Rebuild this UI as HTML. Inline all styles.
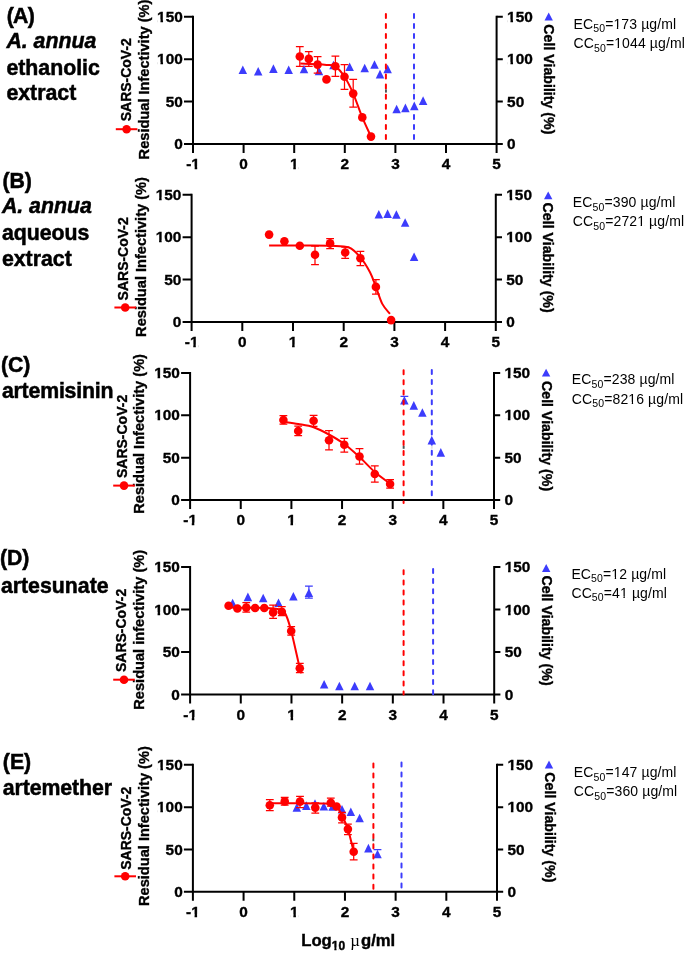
<!DOCTYPE html>
<html><head><meta charset="utf-8"><style>
html,body{margin:0;padding:0;background:#fff;}
svg{display:block;will-change:transform;}
text{font-family:"Liberation Sans", sans-serif;}
.tk{font-size:15.4px;font-weight:bold;font-kerning:none;stroke:#000;stroke-width:0.35px;}
.lb{font-size:14px;font-weight:bold;stroke:#000;stroke-width:0.35px;}
.ri{font-size:14.6px;}
.cv{font-size:14.2px;}
.ec{font-size:14px;letter-spacing:0.12px;font-kerning:none;}
.sub{font-size:10.5px;}
.pl{font-size:21.3px;font-weight:bold;stroke:#000;stroke-width:0.5px;}
.it{font-style:italic;}
.ls2{letter-spacing:-0.2px;}
.ls1{letter-spacing:-0.1px;}
.lsA{letter-spacing:-0.8px;}
.xl{font-size:16.7px;font-kerning:none;font-weight:bold;stroke:#000;stroke-width:0.4px;}
.xsub{font-size:12px;}
.mu{font-weight:normal;stroke-width:0;letter-spacing:1px;font-family:"Liberation Serif",serif;}
</style></head><body>
<svg width="685" height="955" viewBox="0 0 685 955">
<rect width="685" height="955" fill="#fff"/>
<path d="M193 16.8V144H496.6V16.8" stroke="#000" stroke-width="2" fill="none" stroke-linecap="square"/>
<path d="M184 144H193M496.6 144H502.8M184 101.6H193M496.6 101.6H502.8M184 59.2H193M496.6 59.2H502.8M184 16.8H193M496.6 16.8H502.8M193 144V152.9M243.6 144V152.9M294.2 144V152.9M344.8 144V152.9M395.4 144V152.9M446 144V152.9M496.6 144V152.9" stroke="#000" stroke-width="2" fill="none"/>
<g transform="translate(182.8,149.1) scale(1,1.0)"><text x="-8.56" y="0" class="tk">0</text></g>
<g transform="translate(507.1,149.1) scale(1,1.0)"><text x="0" y="0" class="tk">0</text></g>
<g transform="translate(182.8,106.7) scale(1,1.0)"><text x="-17.13" y="0" class="tk">50</text></g>
<g transform="translate(507.1,106.7) scale(1,1.0)"><text x="0" y="0" class="tk">50</text></g>
<g transform="translate(182.8,64.3) scale(1,1.0)"><text x="-25.69" y="0" class="tk">100</text><rect x="-25.4" y="-2.35" width="3.08" height="4.55" fill="#fff"/><rect x="-19.76" y="-2.35" width="2.88" height="4.55" fill="#fff"/></g>
<g transform="translate(507.1,64.3) scale(1,1.0)"><text x="0" y="0" class="tk">100</text><rect x="0.29" y="-2.35" width="3.08" height="4.55" fill="#fff"/><rect x="5.93" y="-2.35" width="2.88" height="4.55" fill="#fff"/></g>
<g transform="translate(182.8,21.9) scale(1,1.0)"><text x="-25.69" y="0" class="tk">150</text><rect x="-25.4" y="-2.35" width="3.08" height="4.55" fill="#fff"/><rect x="-19.76" y="-2.35" width="2.88" height="4.55" fill="#fff"/></g>
<g transform="translate(507.1,21.9) scale(1,1.0)"><text x="0" y="0" class="tk">150</text><rect x="0.29" y="-2.35" width="3.08" height="4.55" fill="#fff"/><rect x="5.93" y="-2.35" width="2.88" height="4.55" fill="#fff"/></g>
<g transform="translate(193,169) scale(1,1.0)"><text x="-6.85" y="0" class="tk">-1</text><rect x="-1.42" y="-2.35" width="3.08" height="4.55" fill="#fff"/><rect x="4.21" y="-2.35" width="2.88" height="4.55" fill="#fff"/></g>
<g transform="translate(243.6,169) scale(1,1.0)"><text x="-4.28" y="0" class="tk">0</text></g>
<g transform="translate(294.2,169) scale(1,1.0)"><text x="-4.28" y="0" class="tk">1</text><rect x="-3.99" y="-2.35" width="3.08" height="4.55" fill="#fff"/><rect x="1.65" y="-2.35" width="2.88" height="4.55" fill="#fff"/></g>
<g transform="translate(344.8,169) scale(1,1.0)"><text x="-4.28" y="0" class="tk">2</text></g>
<g transform="translate(395.4,169) scale(1,1.0)"><text x="-4.28" y="0" class="tk">3</text></g>
<g transform="translate(446,169) scale(1,1.0)"><text x="-4.28" y="0" class="tk">4</text></g>
<g transform="translate(496.6,169) scale(1,1.0)"><text x="-4.28" y="0" class="tk">5</text></g>
<text transform="translate(149.3,79.5) rotate(-90)" text-anchor="middle" class="lb ri">Residual Infectivity (%)</text>
<text transform="translate(131,121.3) rotate(-90) scale(1,1.035)" text-anchor="start" class="lb">SARS-CoV-2</text>
<path d="M115.8 129.2H137.4" stroke="#ff0000" stroke-width="2" fill="none"/>
<circle cx="126.6" cy="129.2" r="4.3" fill="#ff0000"/>
<text transform="translate(543.8,24.3) rotate(90)" class="lb cv">Cell Viability (%)</text>
<polygon points="548.7,12.6 544.5,20.5 552.9,20.5" fill="#3c3cfc"/>
<g transform="translate(573.5,29)"><text x="0" y="0" class="ec">EC<tspan class="sub" dy="3.4">50</tspan><tspan dy="-3.4">=173 µg/ml</tspan></text><rect x="40.35" y="-1.65" width="3.02" height="3.85" fill="#fff"/><rect x="44.71" y="-1.65" width="2.91" height="3.85" fill="#fff"/></g>
<g transform="translate(573.5,48.2)"><text x="0" y="0" class="ec">CC<tspan class="sub" dy="3.4">50</tspan><tspan dy="-3.4">=1044 µg/ml</tspan></text><rect x="41.13" y="-1.65" width="3.02" height="3.85" fill="#fff"/><rect x="45.48" y="-1.65" width="2.91" height="3.85" fill="#fff"/></g>
<polygon points="242.8,65.5 238.55,74.1 247.05,74.1" fill="#3c3cfc"/>
<polygon points="258.2,66.9 253.95,75.5 262.45,75.5" fill="#3c3cfc"/>
<polygon points="273.4,64.3 269.15,72.9 277.65,72.9" fill="#3c3cfc"/>
<polygon points="288.7,65.5 284.45,74.1 292.95,74.1" fill="#3c3cfc"/>
<polygon points="304,64.7 299.75,73.3 308.25,73.3" fill="#3c3cfc"/>
<polygon points="319,66.7 314.75,75.3 323.25,75.3" fill="#3c3cfc"/>
<polygon points="333.5,60.7 329.25,69.3 337.75,69.3" fill="#3c3cfc"/>
<polygon points="349.6,62.4 345.35,71 353.85,71" fill="#3c3cfc"/>
<polygon points="364.7,63.7 360.45,72.3 368.95,72.3" fill="#3c3cfc"/>
<polygon points="374.5,60.2 370.25,68.8 378.75,68.8" fill="#3c3cfc"/>
<polygon points="380,69.8 375.75,78.4 384.25,78.4" fill="#3c3cfc"/>
<polygon points="387.6,64.6 383.35,73.2 391.85,73.2" fill="#3c3cfc"/>
<polygon points="396.6,104.7 392.35,113.3 400.85,113.3" fill="#3c3cfc"/>
<polygon points="405.4,103.6 401.15,112.2 409.65,112.2" fill="#3c3cfc"/>
<polygon points="414.3,101.6 410.05,110.2 418.55,110.2" fill="#3c3cfc"/>
<polygon points="423.1,96.3 418.85,104.9 427.35,104.9" fill="#3c3cfc"/>
<path d="M385.9 13.9V139.3" stroke="#ff0000" stroke-width="2" stroke-dasharray="4 6.1" stroke-linecap="round" fill="none"/>
<path d="M414 13.9V139.3" stroke="#3c3cfc" stroke-width="2" stroke-dasharray="4 6.1" stroke-linecap="round" fill="none"/>
<path d="M300.3 63.6C303.18 63.72 313.23 64.07 317.6 64.3C321.97 64.53 323.55 64.65 326.5 65C329.45 65.35 332.3 64.43 335.3 66.4C338.3 68.37 341.52 72.27 344.5 76.8C347.48 81.33 350.23 86.83 353.2 93.6C356.17 100.37 359.33 110.23 362.3 117.4C365.27 124.57 369.55 133.4 371 136.6" stroke="#ff0000" stroke-width="2.0" fill="none" stroke-linejoin="round" stroke-linecap="butt"/>
<path d="M299.8 46.5V66.3M295.9 46.5H303.7M295.9 66.3H303.7" stroke="#ff0000" stroke-width="1.25" fill="none"/>
<circle cx="299.8" cy="56.5" r="4.3" fill="#ff0000"/>
<path d="M308.8 51.5V66.3M304.9 51.5H312.7M304.9 66.3H312.7" stroke="#ff0000" stroke-width="1.25" fill="none"/>
<circle cx="308.8" cy="58.9" r="4.3" fill="#ff0000"/>
<path d="M317.6 56.5V73M313.7 56.5H321.5M313.7 73H321.5" stroke="#ff0000" stroke-width="1.25" fill="none"/>
<circle cx="317.6" cy="64.6" r="4.3" fill="#ff0000"/>
<circle cx="326.5" cy="79.4" r="4.3" fill="#ff0000"/>
<path d="M335.4 56V76.3M331.5 56H339.3M331.5 76.3H339.3" stroke="#ff0000" stroke-width="1.25" fill="none"/>
<circle cx="335.4" cy="66.2" r="4.3" fill="#ff0000"/>
<path d="M344.5 64.5V89.4M340.6 64.5H348.4M340.6 89.4H348.4" stroke="#ff0000" stroke-width="1.25" fill="none"/>
<circle cx="344.5" cy="76.8" r="4.3" fill="#ff0000"/>
<path d="M353.2 79.4V107.2M349.3 79.4H357.1M349.3 107.2H357.1" stroke="#ff0000" stroke-width="1.25" fill="none"/>
<circle cx="353.2" cy="93.6" r="4.3" fill="#ff0000"/>
<circle cx="362.3" cy="117.4" r="4.3" fill="#ff0000"/>
<circle cx="371" cy="136.6" r="4.3" fill="#ff0000"/>
<text transform="translate(6.8,22.5) scale(1,1.035)" class="pl lsA">(A)</text>
<text x="6.4" y="48.2" class="pl it">A. annua</text>
<text x="6.4" y="74.7" class="pl ">ethanolic</text>
<text x="6.4" y="100.4" class="pl ">extract</text>
<path d="M191.6 194.8V322H495.8V194.8" stroke="#000" stroke-width="2" fill="none" stroke-linecap="square"/>
<path d="M182.6 322H191.6M495.8 322H502M182.6 279.6H191.6M495.8 279.6H502M182.6 237.2H191.6M495.8 237.2H502M182.6 194.8H191.6M495.8 194.8H502M191.6 322V330.9M242.3 322V330.9M293 322V330.9M343.7 322V330.9M394.4 322V330.9M445.1 322V330.9M495.8 322V330.9" stroke="#000" stroke-width="2" fill="none"/>
<g transform="translate(181.4,327.1) scale(1,1.0)"><text x="-8.56" y="0" class="tk">0</text></g>
<g transform="translate(506.3,327.1) scale(1,1.0)"><text x="0" y="0" class="tk">0</text></g>
<g transform="translate(181.4,284.7) scale(1,1.0)"><text x="-17.13" y="0" class="tk">50</text></g>
<g transform="translate(506.3,284.7) scale(1,1.0)"><text x="0" y="0" class="tk">50</text></g>
<g transform="translate(181.4,242.3) scale(1,1.0)"><text x="-25.69" y="0" class="tk">100</text><rect x="-25.4" y="-2.35" width="3.08" height="4.55" fill="#fff"/><rect x="-19.76" y="-2.35" width="2.88" height="4.55" fill="#fff"/></g>
<g transform="translate(506.3,242.3) scale(1,1.0)"><text x="0" y="0" class="tk">100</text><rect x="0.29" y="-2.35" width="3.08" height="4.55" fill="#fff"/><rect x="5.93" y="-2.35" width="2.88" height="4.55" fill="#fff"/></g>
<g transform="translate(181.4,199.9) scale(1,1.0)"><text x="-25.69" y="0" class="tk">150</text><rect x="-25.4" y="-2.35" width="3.08" height="4.55" fill="#fff"/><rect x="-19.76" y="-2.35" width="2.88" height="4.55" fill="#fff"/></g>
<g transform="translate(506.3,199.9) scale(1,1.0)"><text x="0" y="0" class="tk">150</text><rect x="0.29" y="-2.35" width="3.08" height="4.55" fill="#fff"/><rect x="5.93" y="-2.35" width="2.88" height="4.55" fill="#fff"/></g>
<g transform="translate(191.6,347) scale(1,1.0)"><text x="-6.85" y="0" class="tk">-1</text><rect x="-1.42" y="-2.35" width="3.08" height="4.55" fill="#fff"/><rect x="4.21" y="-2.35" width="2.88" height="4.55" fill="#fff"/></g>
<g transform="translate(242.3,347) scale(1,1.0)"><text x="-4.28" y="0" class="tk">0</text></g>
<g transform="translate(293,347) scale(1,1.0)"><text x="-4.28" y="0" class="tk">1</text><rect x="-3.99" y="-2.35" width="3.08" height="4.55" fill="#fff"/><rect x="1.65" y="-2.35" width="2.88" height="4.55" fill="#fff"/></g>
<g transform="translate(343.7,347) scale(1,1.0)"><text x="-4.28" y="0" class="tk">2</text></g>
<g transform="translate(394.4,347) scale(1,1.0)"><text x="-4.28" y="0" class="tk">3</text></g>
<g transform="translate(445.1,347) scale(1,1.0)"><text x="-4.28" y="0" class="tk">4</text></g>
<g transform="translate(495.8,347) scale(1,1.0)"><text x="-4.28" y="0" class="tk">5</text></g>
<text transform="translate(146,257) rotate(-90)" text-anchor="middle" class="lb ri">Residual Infectivity (%)</text>
<text transform="translate(127.8,300.4) rotate(-90) scale(1,1.035)" text-anchor="start" class="lb">SARS-CoV-2</text>
<path d="M114.4 307.5H136" stroke="#ff0000" stroke-width="2" fill="none"/>
<circle cx="125.2" cy="307.5" r="4.3" fill="#ff0000"/>
<text transform="translate(543.2,202.6) rotate(90)" class="lb cv">Cell Viability (%)</text>
<polygon points="548.2,191.4 544,199.3 552.4,199.3" fill="#3c3cfc"/>
<g transform="translate(572.8,207.1)"><text x="0" y="0" class="ec">EC<tspan class="sub" dy="3.4">50</tspan><tspan dy="-3.4">=390 µg/ml</tspan></text></g>
<g transform="translate(572.8,226.3)"><text x="0" y="0" class="ec">CC<tspan class="sub" dy="3.4">50</tspan><tspan dy="-3.4">=2721 µg/ml</tspan></text><rect x="64.85" y="-1.65" width="3.02" height="3.85" fill="#fff"/><rect x="69.2" y="-1.65" width="2.91" height="3.85" fill="#fff"/></g>
<polygon points="378.8,209.9 374.55,218.5 383.05,218.5" fill="#3c3cfc"/>
<polygon points="387.6,209.3 383.35,217.9 391.85,217.9" fill="#3c3cfc"/>
<polygon points="396.4,210.2 392.15,218.8 400.65,218.8" fill="#3c3cfc"/>
<polygon points="405.1,218.2 400.85,226.8 409.35,226.8" fill="#3c3cfc"/>
<polygon points="414.1,252.4 409.85,261 418.35,261" fill="#3c3cfc"/>
<path d="M269.1 245.6C274.25 245.6 289.85 245.57 300 245.6C310.15 245.63 321.83 245.48 330 245.8C338.17 246.12 343.93 245.57 349 247.5C354.07 249.43 356.9 253.27 360.4 257.4C363.9 261.53 367.42 267.38 370 272.3C372.58 277.22 373.85 281.63 375.9 286.9C377.95 292.17 379.97 299.42 382.3 303.9C384.63 308.38 388.63 312.15 389.9 313.8" stroke="#ff0000" stroke-width="2.0" fill="none" stroke-linejoin="round" stroke-linecap="butt"/>
<circle cx="269.1" cy="234.6" r="4.3" fill="#ff0000"/>
<circle cx="284.4" cy="241.3" r="4.3" fill="#ff0000"/>
<circle cx="299.8" cy="245.7" r="4.3" fill="#ff0000"/>
<path d="M315 246V264.5M311.1 246H318.9M311.1 264.5H318.9" stroke="#ff0000" stroke-width="1.25" fill="none"/>
<circle cx="315" cy="254.8" r="4.3" fill="#ff0000"/>
<path d="M330.1 238.5V248.7M326.2 238.5H334M326.2 248.7H334" stroke="#ff0000" stroke-width="1.25" fill="none"/>
<circle cx="330.1" cy="243.4" r="4.3" fill="#ff0000"/>
<path d="M345.2 247V258.3M341.3 247H349.1M341.3 258.3H349.1" stroke="#ff0000" stroke-width="1.25" fill="none"/>
<circle cx="345.2" cy="252.5" r="4.3" fill="#ff0000"/>
<path d="M360.4 251.3V265.7M356.5 251.3H364.3M356.5 265.7H364.3" stroke="#ff0000" stroke-width="1.25" fill="none"/>
<circle cx="360.4" cy="258.3" r="4.3" fill="#ff0000"/>
<path d="M375.9 279.7V294.2M372 279.7H379.8M372 294.2H379.8" stroke="#ff0000" stroke-width="1.25" fill="none"/>
<circle cx="375.9" cy="286.9" r="4.3" fill="#ff0000"/>
<circle cx="391.1" cy="320.1" r="4.3" fill="#ff0000"/>
<text transform="translate(2.4,187.7) scale(1,1.035)" class="pl ">(B)</text>
<text x="1.9" y="213.4" class="pl it">A. annua</text>
<text x="1.9" y="239.9" class="pl ">aqueous</text>
<text x="1.9" y="266.4" class="pl ">extract</text>
<path d="M190.1 373V500H494V373" stroke="#000" stroke-width="2" fill="none" stroke-linecap="square"/>
<path d="M181.1 500H190.1M494 500H500.2M181.1 457.67H190.1M494 457.67H500.2M181.1 415.33H190.1M494 415.33H500.2M181.1 373H190.1M494 373H500.2M190.1 500V508.9M240.75 500V508.9M291.4 500V508.9M342.05 500V508.9M392.7 500V508.9M443.35 500V508.9M494 500V508.9" stroke="#000" stroke-width="2" fill="none"/>
<g transform="translate(179.9,505.1) scale(1,1.0)"><text x="-8.56" y="0" class="tk">0</text></g>
<g transform="translate(504.5,505.1) scale(1,1.0)"><text x="0" y="0" class="tk">0</text></g>
<g transform="translate(179.9,462.77) scale(1,1.0)"><text x="-17.13" y="0" class="tk">50</text></g>
<g transform="translate(504.5,462.77) scale(1,1.0)"><text x="0" y="0" class="tk">50</text></g>
<g transform="translate(179.9,420.43) scale(1,1.0)"><text x="-25.69" y="0" class="tk">100</text><rect x="-25.4" y="-2.35" width="3.08" height="4.55" fill="#fff"/><rect x="-19.76" y="-2.35" width="2.88" height="4.55" fill="#fff"/></g>
<g transform="translate(504.5,420.43) scale(1,1.0)"><text x="0" y="0" class="tk">100</text><rect x="0.29" y="-2.35" width="3.08" height="4.55" fill="#fff"/><rect x="5.93" y="-2.35" width="2.88" height="4.55" fill="#fff"/></g>
<g transform="translate(179.9,378.1) scale(1,1.0)"><text x="-25.69" y="0" class="tk">150</text><rect x="-25.4" y="-2.35" width="3.08" height="4.55" fill="#fff"/><rect x="-19.76" y="-2.35" width="2.88" height="4.55" fill="#fff"/></g>
<g transform="translate(504.5,378.1) scale(1,1.0)"><text x="0" y="0" class="tk">150</text><rect x="0.29" y="-2.35" width="3.08" height="4.55" fill="#fff"/><rect x="5.93" y="-2.35" width="2.88" height="4.55" fill="#fff"/></g>
<g transform="translate(190.1,525) scale(1,1.0)"><text x="-6.85" y="0" class="tk">-1</text><rect x="-1.42" y="-2.35" width="3.08" height="4.55" fill="#fff"/><rect x="4.21" y="-2.35" width="2.88" height="4.55" fill="#fff"/></g>
<g transform="translate(240.75,525) scale(1,1.0)"><text x="-4.28" y="0" class="tk">0</text></g>
<g transform="translate(291.4,525) scale(1,1.0)"><text x="-4.28" y="0" class="tk">1</text><rect x="-3.99" y="-2.35" width="3.08" height="4.55" fill="#fff"/><rect x="1.65" y="-2.35" width="2.88" height="4.55" fill="#fff"/></g>
<g transform="translate(342.05,525) scale(1,1.0)"><text x="-4.28" y="0" class="tk">2</text></g>
<g transform="translate(392.7,525) scale(1,1.0)"><text x="-4.28" y="0" class="tk">3</text></g>
<g transform="translate(443.35,525) scale(1,1.0)"><text x="-4.28" y="0" class="tk">4</text></g>
<g transform="translate(494,525) scale(1,1.0)"><text x="-4.28" y="0" class="tk">5</text></g>
<text transform="translate(144.2,433.9) rotate(-90)" text-anchor="middle" class="lb ri">Residual Infectivity (%)</text>
<text transform="translate(127,478) rotate(-90) scale(1,1.035)" text-anchor="start" class="lb">SARS-CoV-2</text>
<path d="M113.2 485.6H134.8" stroke="#ff0000" stroke-width="2" fill="none"/>
<circle cx="124" cy="485.6" r="4.3" fill="#ff0000"/>
<text transform="translate(541.5,381) rotate(90)" class="lb cv">Cell Viability (%)</text>
<polygon points="546.1,368.7 541.9,376.6 550.3,376.6" fill="#3c3cfc"/>
<g transform="translate(571.8,384.3)"><text x="0" y="0" class="ec">EC<tspan class="sub" dy="3.4">50</tspan><tspan dy="-3.4">=238 µg/ml</tspan></text></g>
<g transform="translate(571.8,403.5)"><text x="0" y="0" class="ec">CC<tspan class="sub" dy="3.4">50</tspan><tspan dy="-3.4">=8216 µg/ml</tspan></text><rect x="56.94" y="-1.65" width="3.02" height="3.85" fill="#fff"/><rect x="61.3" y="-1.65" width="2.91" height="3.85" fill="#fff"/></g>
<polygon points="404.4,396 400.15,404.6 408.65,404.6" fill="#3c3cfc"/>
<polygon points="413.8,401.1 409.55,409.7 418.05,409.7" fill="#3c3cfc"/>
<polygon points="422.4,408.2 418.15,416.8 426.65,416.8" fill="#3c3cfc"/>
<polygon points="431.8,435.8 427.55,444.4 436.05,444.4" fill="#3c3cfc"/>
<polygon points="440.8,448.1 436.55,456.7 445.05,456.7" fill="#3c3cfc"/>
<path d="M404.4 396.4V396.4M400.5 396.4H408.3M400.5 396.4H408.3" stroke="#3c3cfc" stroke-width="1.25" fill="none"/>
<path d="M403.6 370.2V503" stroke="#ff0000" stroke-width="2" stroke-dasharray="4 6.1" stroke-linecap="round" fill="none"/>
<path d="M431.8 370V496" stroke="#3c3cfc" stroke-width="2" stroke-dasharray="4 6.1" stroke-linecap="round" fill="none"/>
<path d="M283.4 421.8C285.87 422.17 293.17 423.08 298.2 424C303.23 424.92 308.48 425.55 313.6 427.3C318.72 429.05 323.78 431.72 328.9 434.5C334.02 437.28 339.2 440.25 344.3 444C349.4 447.75 354.42 452.33 359.5 457C364.58 461.67 369.72 467.57 374.8 472C379.88 476.43 387.47 481.67 390 483.6" stroke="#ff0000" stroke-width="2.0" fill="none" stroke-linejoin="round" stroke-linecap="butt"/>
<path d="M283.4 415.7V424M279.5 415.7H287.3M279.5 424H287.3" stroke="#ff0000" stroke-width="1.25" fill="none"/>
<circle cx="283.4" cy="420" r="4.3" fill="#ff0000"/>
<path d="M298.2 426V435.5M294.3 426H302.1M294.3 435.5H302.1" stroke="#ff0000" stroke-width="1.25" fill="none"/>
<circle cx="298.2" cy="431" r="4.3" fill="#ff0000"/>
<path d="M313.6 415.4V426.4M309.7 415.4H317.5M309.7 426.4H317.5" stroke="#ff0000" stroke-width="1.25" fill="none"/>
<circle cx="313.6" cy="420.7" r="4.3" fill="#ff0000"/>
<path d="M329 430.5V449.8M325.1 430.5H332.9M325.1 449.8H332.9" stroke="#ff0000" stroke-width="1.25" fill="none"/>
<circle cx="329" cy="440.2" r="4.3" fill="#ff0000"/>
<path d="M344.3 438.3V452M340.4 438.3H348.2M340.4 452H348.2" stroke="#ff0000" stroke-width="1.25" fill="none"/>
<circle cx="344.3" cy="444.8" r="4.3" fill="#ff0000"/>
<path d="M359.5 448.5V464.2M355.6 448.5H363.4M355.6 464.2H363.4" stroke="#ff0000" stroke-width="1.25" fill="none"/>
<circle cx="359.5" cy="456.5" r="4.3" fill="#ff0000"/>
<path d="M374.8 465.9V482.2M370.9 465.9H378.7M370.9 482.2H378.7" stroke="#ff0000" stroke-width="1.25" fill="none"/>
<circle cx="374.8" cy="474" r="4.3" fill="#ff0000"/>
<path d="M390.1 479.6V488.1M386.2 479.6H394M386.2 488.1H394" stroke="#ff0000" stroke-width="1.25" fill="none"/>
<circle cx="390.1" cy="484" r="4.3" fill="#ff0000"/>
<text transform="translate(0.9,371.8) scale(1,1.035)" class="pl ">(C)</text>
<text x="1.9" y="398.1" class="pl ls2">artemisinin</text>
<path d="M190.1 567V694.5H494.2V567" stroke="#000" stroke-width="2" fill="none" stroke-linecap="square"/>
<path d="M181.1 694.5H190.1M494.2 694.5H500.4M181.1 652H190.1M494.2 652H500.4M181.1 609.5H190.1M494.2 609.5H500.4M181.1 567H190.1M494.2 567H500.4M190.1 694.5V703.4M240.78 694.5V703.4M291.47 694.5V703.4M342.15 694.5V703.4M392.83 694.5V703.4M443.52 694.5V703.4M494.2 694.5V703.4" stroke="#000" stroke-width="2" fill="none"/>
<g transform="translate(179.9,699.6) scale(1,1.0)"><text x="-8.56" y="0" class="tk">0</text></g>
<g transform="translate(504.7,699.6) scale(1,1.0)"><text x="0" y="0" class="tk">0</text></g>
<g transform="translate(179.9,657.1) scale(1,1.0)"><text x="-17.13" y="0" class="tk">50</text></g>
<g transform="translate(504.7,657.1) scale(1,1.0)"><text x="0" y="0" class="tk">50</text></g>
<g transform="translate(179.9,614.6) scale(1,1.0)"><text x="-25.69" y="0" class="tk">100</text><rect x="-25.4" y="-2.35" width="3.08" height="4.55" fill="#fff"/><rect x="-19.76" y="-2.35" width="2.88" height="4.55" fill="#fff"/></g>
<g transform="translate(504.7,614.6) scale(1,1.0)"><text x="0" y="0" class="tk">100</text><rect x="0.29" y="-2.35" width="3.08" height="4.55" fill="#fff"/><rect x="5.93" y="-2.35" width="2.88" height="4.55" fill="#fff"/></g>
<g transform="translate(179.9,572.1) scale(1,1.0)"><text x="-25.69" y="0" class="tk">150</text><rect x="-25.4" y="-2.35" width="3.08" height="4.55" fill="#fff"/><rect x="-19.76" y="-2.35" width="2.88" height="4.55" fill="#fff"/></g>
<g transform="translate(504.7,572.1) scale(1,1.0)"><text x="0" y="0" class="tk">150</text><rect x="0.29" y="-2.35" width="3.08" height="4.55" fill="#fff"/><rect x="5.93" y="-2.35" width="2.88" height="4.55" fill="#fff"/></g>
<g transform="translate(190.1,719.5) scale(1,1.0)"><text x="-6.85" y="0" class="tk">-1</text><rect x="-1.42" y="-2.35" width="3.08" height="4.55" fill="#fff"/><rect x="4.21" y="-2.35" width="2.88" height="4.55" fill="#fff"/></g>
<g transform="translate(240.78,719.5) scale(1,1.0)"><text x="-4.28" y="0" class="tk">0</text></g>
<g transform="translate(291.47,719.5) scale(1,1.0)"><text x="-4.28" y="0" class="tk">1</text><rect x="-3.99" y="-2.35" width="3.08" height="4.55" fill="#fff"/><rect x="1.65" y="-2.35" width="2.88" height="4.55" fill="#fff"/></g>
<g transform="translate(342.15,719.5) scale(1,1.0)"><text x="-4.28" y="0" class="tk">2</text></g>
<g transform="translate(392.83,719.5) scale(1,1.0)"><text x="-4.28" y="0" class="tk">3</text></g>
<g transform="translate(443.52,719.5) scale(1,1.0)"><text x="-4.28" y="0" class="tk">4</text></g>
<g transform="translate(494.2,719.5) scale(1,1.0)"><text x="-4.28" y="0" class="tk">5</text></g>
<text transform="translate(144.2,629.8) rotate(-90)" text-anchor="middle" class="lb ri">Residual infectivity (%)</text>
<text transform="translate(126.2,672) rotate(-90) scale(1,1.035)" text-anchor="start" class="lb">SARS-CoV-2</text>
<path d="M113.2 679.7H134.8" stroke="#ff0000" stroke-width="2" fill="none"/>
<circle cx="124" cy="679.7" r="4.3" fill="#ff0000"/>
<text transform="translate(542.2,575.5) rotate(90)" class="lb cv">Cell Viability (%)</text>
<polygon points="546.2,564.1 542,572 550.4,572" fill="#3c3cfc"/>
<g transform="translate(571.4,578.6)"><text x="0" y="0" class="ec">EC<tspan class="sub" dy="3.4">50</tspan><tspan dy="-3.4">=12 µg/ml</tspan></text><rect x="40.35" y="-1.65" width="3.02" height="3.85" fill="#fff"/><rect x="44.71" y="-1.65" width="2.91" height="3.85" fill="#fff"/></g>
<g transform="translate(571.4,597.8)"><text x="0" y="0" class="ec">CC<tspan class="sub" dy="3.4">50</tspan><tspan dy="-3.4">=41 µg/ml</tspan></text><rect x="49.03" y="-1.65" width="3.02" height="3.85" fill="#fff"/><rect x="53.39" y="-1.65" width="2.91" height="3.85" fill="#fff"/></g>
<polygon points="232.6,598.7 228.35,607.3 236.85,607.3" fill="#3c3cfc"/>
<polygon points="247.9,592.6 243.65,601.2 252.15,601.2" fill="#3c3cfc"/>
<polygon points="263.2,593.7 258.95,602.3 267.45,602.3" fill="#3c3cfc"/>
<polygon points="278.5,598.5 274.25,607.1 282.75,607.1" fill="#3c3cfc"/>
<polygon points="293.4,591.9 289.15,600.5 297.65,600.5" fill="#3c3cfc"/>
<polygon points="308.9,588.5 304.65,597.1 313.15,597.1" fill="#3c3cfc"/>
<polygon points="324.1,679.9 319.85,688.5 328.35,688.5" fill="#3c3cfc"/>
<polygon points="339.4,681.7 335.15,690.3 343.65,690.3" fill="#3c3cfc"/>
<polygon points="354.7,681.7 350.45,690.3 358.95,690.3" fill="#3c3cfc"/>
<polygon points="370,681.7 365.75,690.3 374.25,690.3" fill="#3c3cfc"/>
<path d="M308.9 586.1V598.2M305 586.1H312.8M305 598.2H312.8" stroke="#3c3cfc" stroke-width="1.25" fill="none"/>
<path d="M403.6 570.3V694.5" stroke="#ff0000" stroke-width="2" stroke-dasharray="4 6.1" stroke-linecap="round" fill="none"/>
<path d="M433.1 569V694.5" stroke="#3c3cfc" stroke-width="2" stroke-dasharray="4 6.1" stroke-linecap="round" fill="none"/>
<path d="M228.6 607.5C232.17 607.55 243.1 607.68 250 607.8C256.9 607.92 264.7 607.83 270 608.2C275.3 608.57 279.13 608.87 281.8 610C284.47 611.13 284.43 611.5 286 615C287.57 618.5 288.9 622.13 291.2 631C293.5 639.87 298.08 661.2 299.8 668.2C301.52 675.2 301.22 672.2 301.5 673" stroke="#ff0000" stroke-width="2.0" fill="none" stroke-linejoin="round" stroke-linecap="butt"/>
<circle cx="228.6" cy="605.8" r="4.3" fill="#ff0000"/>
<circle cx="237.4" cy="608.5" r="4.3" fill="#ff0000"/>
<path d="M246.3 602.6V612M242.4 602.6H250.2M242.4 612H250.2" stroke="#ff0000" stroke-width="1.25" fill="none"/>
<circle cx="246.3" cy="607.6" r="4.3" fill="#ff0000"/>
<circle cx="255.1" cy="608" r="4.3" fill="#ff0000"/>
<circle cx="264.3" cy="608" r="4.3" fill="#ff0000"/>
<path d="M273.1 605.2V618.3M269.2 605.2H277M269.2 618.3H277" stroke="#ff0000" stroke-width="1.25" fill="none"/>
<circle cx="273.1" cy="612.4" r="4.3" fill="#ff0000"/>
<path d="M281.8 606.5V615.7M277.9 606.5H285.7M277.9 615.7H285.7" stroke="#ff0000" stroke-width="1.25" fill="none"/>
<circle cx="281.8" cy="611.7" r="4.3" fill="#ff0000"/>
<path d="M291.2 626.6V635M287.3 626.6H295.1M287.3 635H295.1" stroke="#ff0000" stroke-width="1.25" fill="none"/>
<circle cx="291.2" cy="631" r="4.3" fill="#ff0000"/>
<path d="M299.8 663.4V672.6M295.9 663.4H303.7M295.9 672.6H303.7" stroke="#ff0000" stroke-width="1.25" fill="none"/>
<circle cx="299.8" cy="668.2" r="4.3" fill="#ff0000"/>
<text transform="translate(-0.1,565.4) scale(1,1.035)" class="pl ">(D)</text>
<text x="0.9" y="592.6" class="pl ">artesunate</text>
<path d="M192.9 764.8V891.8H497V764.8" stroke="#000" stroke-width="2" fill="none" stroke-linecap="square"/>
<path d="M183.9 891.8H192.9M497 891.8H503.2M183.9 849.47H192.9M497 849.47H503.2M183.9 807.13H192.9M497 807.13H503.2M183.9 764.8H192.9M497 764.8H503.2M192.9 891.8V900.7M243.58 891.8V900.7M294.27 891.8V900.7M344.95 891.8V900.7M395.63 891.8V900.7M446.32 891.8V900.7M497 891.8V900.7" stroke="#000" stroke-width="2" fill="none"/>
<g transform="translate(182.7,896.9) scale(1,1.0)"><text x="-8.56" y="0" class="tk">0</text></g>
<g transform="translate(507.5,896.9) scale(1,1.0)"><text x="0" y="0" class="tk">0</text></g>
<g transform="translate(182.7,854.57) scale(1,1.0)"><text x="-17.13" y="0" class="tk">50</text></g>
<g transform="translate(507.5,854.57) scale(1,1.0)"><text x="0" y="0" class="tk">50</text></g>
<g transform="translate(182.7,812.23) scale(1,1.0)"><text x="-25.69" y="0" class="tk">100</text><rect x="-25.4" y="-2.35" width="3.08" height="4.55" fill="#fff"/><rect x="-19.76" y="-2.35" width="2.88" height="4.55" fill="#fff"/></g>
<g transform="translate(507.5,812.23) scale(1,1.0)"><text x="0" y="0" class="tk">100</text><rect x="0.29" y="-2.35" width="3.08" height="4.55" fill="#fff"/><rect x="5.93" y="-2.35" width="2.88" height="4.55" fill="#fff"/></g>
<g transform="translate(182.7,769.9) scale(1,1.0)"><text x="-25.69" y="0" class="tk">150</text><rect x="-25.4" y="-2.35" width="3.08" height="4.55" fill="#fff"/><rect x="-19.76" y="-2.35" width="2.88" height="4.55" fill="#fff"/></g>
<g transform="translate(507.5,769.9) scale(1,1.0)"><text x="0" y="0" class="tk">150</text><rect x="0.29" y="-2.35" width="3.08" height="4.55" fill="#fff"/><rect x="5.93" y="-2.35" width="2.88" height="4.55" fill="#fff"/></g>
<g transform="translate(192.9,916.8) scale(1,1.0)"><text x="-6.85" y="0" class="tk">-1</text><rect x="-1.42" y="-2.35" width="3.08" height="4.55" fill="#fff"/><rect x="4.21" y="-2.35" width="2.88" height="4.55" fill="#fff"/></g>
<g transform="translate(243.58,916.8) scale(1,1.0)"><text x="-4.28" y="0" class="tk">0</text></g>
<g transform="translate(294.27,916.8) scale(1,1.0)"><text x="-4.28" y="0" class="tk">1</text><rect x="-3.99" y="-2.35" width="3.08" height="4.55" fill="#fff"/><rect x="1.65" y="-2.35" width="2.88" height="4.55" fill="#fff"/></g>
<g transform="translate(344.95,916.8) scale(1,1.0)"><text x="-4.28" y="0" class="tk">2</text></g>
<g transform="translate(395.63,916.8) scale(1,1.0)"><text x="-4.28" y="0" class="tk">3</text></g>
<g transform="translate(446.32,916.8) scale(1,1.0)"><text x="-4.28" y="0" class="tk">4</text></g>
<g transform="translate(497,916.8) scale(1,1.0)"><text x="-4.28" y="0" class="tk">5</text></g>
<text transform="translate(149,826.1) rotate(-90)" text-anchor="middle" class="lb ri">Residual Infectivity (%)</text>
<text transform="translate(131,869.8) rotate(-90) scale(1,1.035)" text-anchor="start" class="lb">SARS-CoV-2</text>
<path d="M114.4 876.3H136" stroke="#ff0000" stroke-width="2" fill="none"/>
<circle cx="125.2" cy="876.3" r="4.3" fill="#ff0000"/>
<text transform="translate(545.3,772.3) rotate(90)" class="lb cv">Cell Viability (%)</text>
<polygon points="549,760.6 544.8,768.5 553.2,768.5" fill="#3c3cfc"/>
<g transform="translate(573.8,777.2)"><text x="0" y="0" class="ec">EC<tspan class="sub" dy="3.4">50</tspan><tspan dy="-3.4">=147 µg/ml</tspan></text><rect x="40.35" y="-1.65" width="3.02" height="3.85" fill="#fff"/><rect x="44.71" y="-1.65" width="2.91" height="3.85" fill="#fff"/></g>
<g transform="translate(573.8,796.4)"><text x="0" y="0" class="ec">CC<tspan class="sub" dy="3.4">50</tspan><tspan dy="-3.4">=360 µg/ml</tspan></text></g>
<polygon points="296.8,803.1 292.55,811.7 301.05,811.7" fill="#3c3cfc"/>
<polygon points="306.3,801.3 302.05,809.9 310.55,809.9" fill="#3c3cfc"/>
<polygon points="315,799.2 310.75,807.8 319.25,807.8" fill="#3c3cfc"/>
<polygon points="323.8,802 319.55,810.6 328.05,810.6" fill="#3c3cfc"/>
<polygon points="332.6,802.2 328.35,810.8 336.85,810.8" fill="#3c3cfc"/>
<polygon points="342,805 337.75,813.6 346.25,813.6" fill="#3c3cfc"/>
<polygon points="350.8,807.4 346.55,816 355.05,816" fill="#3c3cfc"/>
<polygon points="359.6,813.7 355.35,822.3 363.85,822.3" fill="#3c3cfc"/>
<polygon points="368.4,843.8 364.15,852.4 372.65,852.4" fill="#3c3cfc"/>
<polygon points="377.5,849.7 373.25,858.3 381.75,858.3" fill="#3c3cfc"/>
<path d="M377.5 849.7V849.7M373.6 849.7H381.4M373.6 849.7H381.4" stroke="#3c3cfc" stroke-width="1.25" fill="none"/>
<path d="M373.4 763.5V889.5" stroke="#ff0000" stroke-width="2" stroke-dasharray="4 6.1" stroke-linecap="round" fill="none"/>
<path d="M401.5 762.4V888.4" stroke="#3c3cfc" stroke-width="2" stroke-dasharray="4 6.1" stroke-linecap="round" fill="none"/>
<path d="M269.8 803.3C274.83 803.3 290.8 803.25 300 803.3C309.2 803.35 319.83 803.4 325 803.6C330.17 803.8 329.07 804.02 331 804.5C332.93 804.98 334.77 804.68 336.6 806.5C338.43 808.32 340.12 811.63 342 815.4C343.88 819.17 345.95 823.03 347.9 829.1C349.85 835.17 352.73 848.02 353.7 851.8" stroke="#ff0000" stroke-width="2.0" fill="none" stroke-linejoin="round" stroke-linecap="butt"/>
<path d="M269.8 799.7V810.7M265.9 799.7H273.7M265.9 810.7H273.7" stroke="#ff0000" stroke-width="1.25" fill="none"/>
<circle cx="269.8" cy="805.2" r="4.3" fill="#ff0000"/>
<path d="M284.7 797.4V805M280.8 797.4H288.6M280.8 805H288.6" stroke="#ff0000" stroke-width="1.25" fill="none"/>
<circle cx="284.7" cy="801.4" r="4.3" fill="#ff0000"/>
<path d="M300 796.3V807.7M296.1 796.3H303.9M296.1 807.7H303.9" stroke="#ff0000" stroke-width="1.25" fill="none"/>
<circle cx="300" cy="801.6" r="4.3" fill="#ff0000"/>
<path d="M315.3 802.8V813.1M311.4 802.8H319.2M311.4 813.1H319.2" stroke="#ff0000" stroke-width="1.25" fill="none"/>
<circle cx="315.3" cy="807.7" r="4.3" fill="#ff0000"/>
<path d="M330.8 798.2V806M326.9 798.2H334.7M326.9 806H334.7" stroke="#ff0000" stroke-width="1.25" fill="none"/>
<circle cx="330.8" cy="802.8" r="4.3" fill="#ff0000"/>
<circle cx="336.6" cy="806.5" r="4.3" fill="#ff0000"/>
<path d="M342 812.3V822.8M338.1 812.3H345.9M338.1 822.8H345.9" stroke="#ff0000" stroke-width="1.25" fill="none"/>
<circle cx="342" cy="817.4" r="4.3" fill="#ff0000"/>
<path d="M347.9 824V834.7M344 824H351.8M344 834.7H351.8" stroke="#ff0000" stroke-width="1.25" fill="none"/>
<circle cx="347.9" cy="829.1" r="4.3" fill="#ff0000"/>
<path d="M353.7 843.3V859.8M349.8 843.3H357.6M349.8 859.8H357.6" stroke="#ff0000" stroke-width="1.25" fill="none"/>
<circle cx="353.7" cy="851.8" r="4.3" fill="#ff0000"/>
<text transform="translate(2.8,768.6) scale(1,1.035)" class="pl ">(E)</text>
<text x="2.8" y="795.2" class="pl ls1">artemether</text>
<rect x="385.0" y="89.4" width="1.9" height="3.2" fill="#4d5353"/>
<rect x="413.1" y="89.4" width="1.9" height="3.2" fill="#e4e4e4"/>
<rect x="402.7" y="445.8" width="1.9" height="3.0" fill="#4d5353"/>
<rect x="430.9" y="445.9" width="1.9" height="2.8" fill="#e4e4e4"/>
<rect x="372.4" y="838.8" width="1.9" height="2.4" fill="#4d5353"/>
<rect x="400.6" y="838.8" width="1.9" height="2.4" fill="#e4e4e4"/>
<g transform="translate(301.2,946)"><text x="0" y="0" class="xl">Log<tspan class="xsub" dy="3.5">10</tspan><tspan dy="-3.5" class="mu"> µ</tspan>g/ml</text><rect x="30.83" y="1.48" width="2.32" height="4.22" fill="#fff"/><rect x="35.3" y="1.48" width="2.17" height="4.22" fill="#fff"/></g>
</svg>
</body></html>
